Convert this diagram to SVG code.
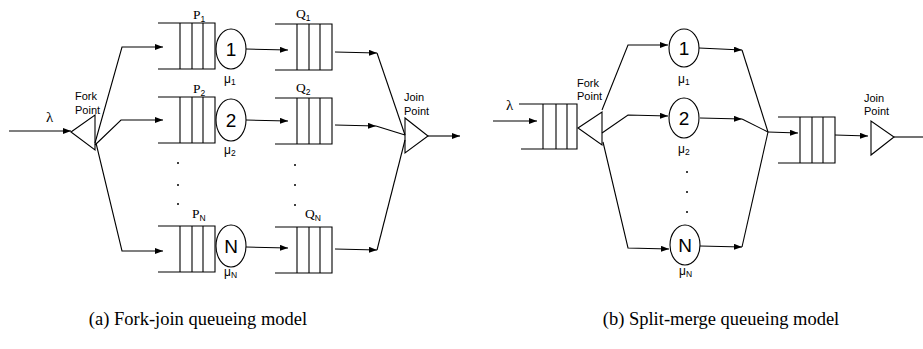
<svg xmlns="http://www.w3.org/2000/svg" width="923" height="349" viewBox="0 0 923 349">
<style>
.ln{stroke:#000;stroke-width:1.1;fill:none}
.arr{marker-end:url(#ah)}
.sans{font-family:"Liberation Sans",Arial,sans-serif;fill:#000}
.serif{font-family:"Liberation Serif","Times New Roman",serif;fill:#000}
.lab{font-size:11px}
.num{font-size:19px;text-anchor:middle}
.mu{font-size:12px}
.sub{font-size:8.5px}
.pq{font-size:13.5px}
.cap{font-size:18.5px;text-anchor:middle}
</style>
<defs>
<marker id="ah" markerUnits="userSpaceOnUse" markerWidth="9" markerHeight="7" refX="8" refY="3" orient="auto">
<path d="M0,0 L8,3 L0,6 z" fill="#000"/>
</marker>
<g id="qshape">
<path class="ln" d="M0,0 H57 V46 H0 M22,0 V46 M34,0 V46 M45,0 V46"/>
</g>
</defs>
<rect width="923" height="349" fill="#fff"/>

<!-- connectors -->
<g id="connectors">
<!-- (a) -->
<line class="ln arr" x1="9" y1="131" x2="71" y2="131"/>
<polyline class="ln arr" points="95,143 122,47 163,47"/>
<polyline class="ln arr" points="95,145 121,120 163,120"/>
<polyline class="ln arr" points="96,143 122,251 163,251"/>
<line class="ln arr" x1="246" y1="49" x2="288" y2="50"/>
<line class="ln arr" x1="246" y1="120" x2="288" y2="121"/>
<line class="ln arr" x1="246" y1="247" x2="288" y2="248"/>
<line class="ln arr" x1="335" y1="52" x2="377" y2="53"/>
<line class="ln arr" x1="335" y1="125" x2="376" y2="126"/>
<line class="ln arr" x1="335" y1="249" x2="377" y2="250"/>
<polyline class="ln" points="377,53 405,135"/>
<polyline class="ln" points="376,126 405,135"/>
<polyline class="ln" points="377,250 405,140"/>
<line class="ln arr" x1="428" y1="136" x2="460" y2="136"/>
<!-- (b) -->
<line class="ln arr" x1="493" y1="121" x2="537" y2="121"/>
<polyline class="ln arr" points="602,110 628,45 668,45"/>
<polyline class="ln arr" points="602,133 628,115 668,116"/>
<polyline class="ln arr" points="603,142 628,248 669,249"/>
<line class="ln arr" x1="699" y1="48" x2="742" y2="50"/>
<line class="ln arr" x1="700" y1="118" x2="742" y2="119"/>
<line class="ln arr" x1="700" y1="246" x2="742" y2="247"/>
<line class="ln" x1="742" y1="50" x2="768" y2="132"/>
<line class="ln" x1="742" y1="119" x2="768" y2="132"/>
<line class="ln" x1="742" y1="247" x2="768" y2="132"/>
<line class="ln arr" x1="768" y1="132" x2="798" y2="133"/>
<line class="ln arr" x1="835" y1="135" x2="868" y2="136"/>
<line class="ln" x1="894" y1="137" x2="923" y2="137"/>
</g>

<!-- (a) nodes -->
<text class="serif" x="46" y="122" font-size="15">λ</text>
<g id="forkA">
<polygon class="ln" points="71,132 95,115 95,150"/>
<text class="sans lab" x="75" y="100">Fork</text>
<text class="sans lab" x="75" y="114">Point</text>
</g>
<g id="P1"><use href="#qshape" x="158" y="23"/><text class="serif pq" x="193" y="19">P<tspan class="sans sub" dy="3">1</tspan></text></g>
<g id="P2"><use href="#qshape" x="158" y="97"/><text class="serif pq" x="193" y="93">P<tspan class="sans sub" dy="3">2</tspan></text></g>
<g id="PN"><use href="#qshape" x="158" y="226"/><text class="serif pq" x="192" y="218">P<tspan class="sans sub" dy="3">N</tspan></text></g>
<g id="dotsA" fill="#000">
<circle cx="178" cy="163" r="1"/><circle cx="178" cy="185" r="1"/><circle cx="178" cy="204" r="1"/>
<circle cx="295" cy="165" r="1"/><circle cx="295" cy="185" r="1"/><circle cx="295" cy="205" r="1"/>
</g>
<g id="S1a"><ellipse class="ln" cx="231" cy="49" rx="15" ry="20"/><text class="sans num" x="231" y="56">1</text><text class="sans mu" x="224" y="83">μ<tspan class="sub" dy="2">1</tspan></text></g>
<g id="S2a"><ellipse class="ln" cx="231" cy="120" rx="15" ry="21"/><text class="sans num" x="231" y="127">2</text><text class="sans mu" x="224" y="154">μ<tspan class="sub" dy="2">2</tspan></text></g>
<g id="SNa"><ellipse class="ln" cx="231" cy="246" rx="15" ry="21"/><text class="sans num" x="231" y="253">N</text><text class="sans mu" x="224" y="276">μ<tspan class="sub" dy="2">N</tspan></text></g>
<g id="Q1"><use href="#qshape" x="275" y="24"/><text class="serif pq" x="296" y="18">Q<tspan class="sans sub" dy="3">1</tspan></text></g>
<g id="Q2"><use href="#qshape" x="275" y="98"/><text class="serif pq" x="296" y="92">Q<tspan class="sans sub" dy="3">2</tspan></text></g>
<g id="QN"><use href="#qshape" x="305" y="227" transform="translate(-30,0)"/><text class="serif pq" x="305" y="218">Q<tspan class="sans sub" dy="3">N</tspan></text></g>
<g id="joinA">
<polygon class="ln" points="405,118 405,153 428,136"/>
<text class="sans lab" x="404" y="101">Join</text>
<text class="sans lab" x="404" y="115">Point</text>
</g>

<!-- (b) nodes -->
<text class="serif" x="506" y="110" font-size="15">λ</text>
<g id="Qin"><path class="ln" d="M519,104 H577 V149 H521 M543,104 V149 M556,104 V149 M567,104 V149"/></g>
<g id="forkB">
<polygon class="ln" points="578,128 602,112 602,145"/>
<text class="sans lab" x="577" y="87">Fork</text>
<text class="sans lab" x="577" y="100">Point</text>
</g>
<g id="S1b"><ellipse class="ln" cx="684" cy="48" rx="15" ry="19"/><text class="sans num" x="684" y="55">1</text><text class="sans mu" x="678" y="83">μ<tspan class="sub" dy="2">1</tspan></text></g>
<g id="S2b"><ellipse class="ln" cx="684" cy="118" rx="15" ry="20"/><text class="sans num" x="684" y="125">2</text><text class="sans mu" x="678" y="153">μ<tspan class="sub" dy="2">2</tspan></text></g>
<g id="SNb"><ellipse class="ln" cx="685" cy="245" rx="15" ry="20"/><text class="sans num" x="685" y="252">N</text><text class="sans mu" x="679" y="275">μ<tspan class="sub" dy="2">N</tspan></text></g>
<g id="dotsB" fill="#000">
<circle cx="687" cy="172" r="1"/><circle cx="687" cy="192" r="1"/><circle cx="687" cy="212" r="1"/>
</g>
<g id="Qmerge"><use href="#qshape" x="778" y="117"/></g>
<g id="joinB">
<polygon class="ln" points="871,121 871,155 894,137"/>
<text class="sans lab" x="864" y="102">Join</text>
<text class="sans lab" x="864" y="115">Point</text>
</g>

<text class="serif cap" x="198" y="325">(a) Fork-join queueing model</text>
<text class="serif cap" x="721" y="325">(b) Split-merge queueing model</text>
</svg>
